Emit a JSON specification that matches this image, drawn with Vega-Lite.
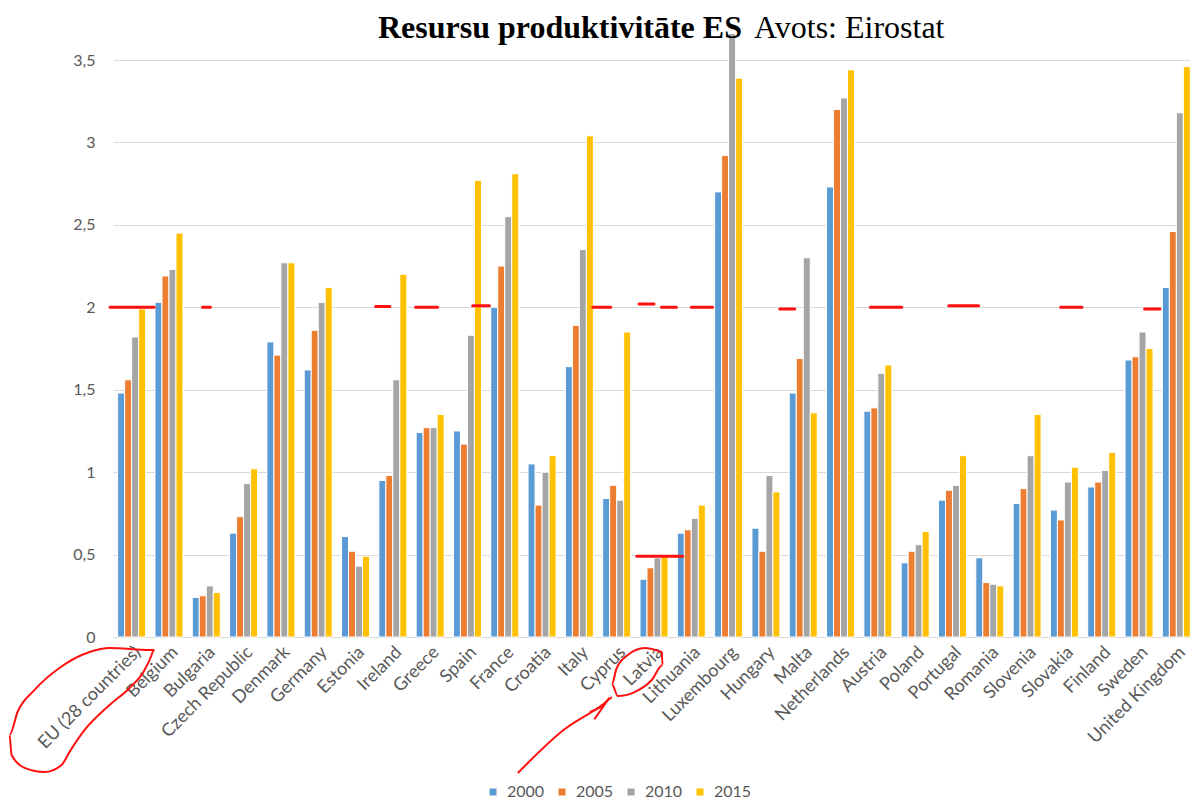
{
  "$schema": "https://vega.github.io/schema/vega-lite/v6.json",
  "width": 1082,
  "height": 577,
  "autosize": "none",
  "padding": {"left": 113, "top": 60, "right": 0, "bottom": 164},
  "background": "white",
  "config": {"font": "Lato", "view": {"stroke": null}},
  "title": {
    "text": "Resursu produktivitāte ES",
    "subtitle": "\u200b\u00a0\u00a0\u00a0\u00a0\u00a0\u00a0\u00a0\u00a0\u00a0\u00a0\u00a0\u00a0\u00a0\u00a0\u00a0\u00a0\u00a0\u00a0\u00a0\u00a0\u00a0\u00a0\u00a0\u00a0\u00a0\u00a0\u00a0\u00a0\u00a0\u00a0\u00a0\u00a0\u00a0\u00a0\u00a0\u00a0\u00a0\u00a0\u00a0\u00a0\u00a0\u00a0\u00a0\u00a0\u00a0\u00a0\u00a0Avots: Eirostat",
    "anchor": "start",
    "frame": "group",
    "dx": 265,
    "offset": -12,
    "font": "Liberation Serif",
    "fontSize": 32,
    "fontWeight": "bold",
    "color": "black",
    "subtitleFont": "Liberation Serif",
    "subtitleFontSize": 32,
    "subtitleFontWeight": "normal",
    "subtitleColor": "black",
    "subtitlePadding": -32
  },
  "datasets": {
    "bars": [
      {"country": "EU (28 countries)", "2000": 1.48, "2005": 1.56, "2010": 1.82, "2015": 1.99},
      {"country": "Belgium", "2000": 2.03, "2005": 2.19, "2010": 2.23, "2015": 2.45},
      {"country": "Bulgaria", "2000": 0.24, "2005": 0.25, "2010": 0.31, "2015": 0.27},
      {"country": "Czech Republic", "2000": 0.63, "2005": 0.73, "2010": 0.93, "2015": 1.02},
      {"country": "Denmark", "2000": 1.79, "2005": 1.71, "2010": 2.27, "2015": 2.27},
      {"country": "Germany", "2000": 1.62, "2005": 1.86, "2010": 2.03, "2015": 2.12},
      {"country": "Estonia", "2000": 0.61, "2005": 0.52, "2010": 0.43, "2015": 0.49},
      {"country": "Ireland", "2000": 0.95, "2005": 0.98, "2010": 1.56, "2015": 2.2},
      {"country": "Greece", "2000": 1.24, "2005": 1.27, "2010": 1.27, "2015": 1.35},
      {"country": "Spain", "2000": 1.25, "2005": 1.17, "2010": 1.83, "2015": 2.77},
      {"country": "France", "2000": 2.0, "2005": 2.25, "2010": 2.55, "2015": 2.81},
      {"country": "Croatia", "2000": 1.05, "2005": 0.8, "2010": 1.0, "2015": 1.1},
      {"country": "Italy", "2000": 1.64, "2005": 1.89, "2010": 2.35, "2015": 3.04},
      {"country": "Cyprus", "2000": 0.84, "2005": 0.92, "2010": 0.83, "2015": 1.85},
      {"country": "Latvia", "2000": 0.35, "2005": 0.42, "2010": 0.48, "2015": 0.5},
      {"country": "Lithuania", "2000": 0.63, "2005": 0.65, "2010": 0.72, "2015": 0.8},
      {"country": "Luxembourg", "2000": 2.7, "2005": 2.92, "2010": 3.66, "2015": 3.39},
      {"country": "Hungary", "2000": 0.66, "2005": 0.52, "2010": 0.98, "2015": 0.88},
      {"country": "Malta", "2000": 1.48, "2005": 1.69, "2010": 2.3, "2015": 1.36},
      {"country": "Netherlands", "2000": 2.73, "2005": 3.2, "2010": 3.27, "2015": 3.44},
      {"country": "Austria", "2000": 1.37, "2005": 1.39, "2010": 1.6, "2015": 1.65},
      {"country": "Poland", "2000": 0.45, "2005": 0.52, "2010": 0.56, "2015": 0.64},
      {"country": "Portugal", "2000": 0.83, "2005": 0.89, "2010": 0.92, "2015": 1.1},
      {"country": "Romania", "2000": 0.48, "2005": 0.33, "2010": 0.32, "2015": 0.31},
      {"country": "Slovenia", "2000": 0.81, "2005": 0.9, "2010": 1.1, "2015": 1.35},
      {"country": "Slovakia", "2000": 0.77, "2005": 0.71, "2010": 0.94, "2015": 1.03},
      {"country": "Finland", "2000": 0.91, "2005": 0.94, "2010": 1.01, "2015": 1.12},
      {"country": "Sweden", "2000": 1.68, "2005": 1.7, "2010": 1.85, "2015": 1.75},
      {"country": "United Kingdom", "2000": 2.12, "2005": 2.46, "2010": 3.18, "2015": 3.46}
    ],
    "dashes": [
      {"a": -0.08, "b": 1.1, "v": 2.0},
      {"a": 2.4, "b": 2.61, "v": 2.0},
      {"a": 7.04, "b": 7.42, "v": 2.005},
      {"a": 8.11, "b": 8.7, "v": 2.0},
      {"a": 9.64, "b": 10.09, "v": 2.01},
      {"a": 12.86, "b": 13.34, "v": 2.0},
      {"a": 14.1, "b": 14.5, "v": 2.02},
      {"a": 14.7, "b": 15.1, "v": 2.0},
      {"a": 15.5, "b": 16.07, "v": 2.0},
      {"a": 17.87, "b": 18.27, "v": 1.99},
      {"a": 20.3, "b": 21.14, "v": 2.0},
      {"a": 22.4, "b": 23.2, "v": 2.01},
      {"a": 25.4, "b": 25.97, "v": 2.0},
      {"a": 27.65, "b": 28.06, "v": 1.99},
      {"a": 14.04, "b": 15.27, "v": 0.49}
    ],
    "scribbles": [
      {"id": "eu", "ord": 1, "ix": 1.115, "v": -0.079},
      {"id": "eu", "ord": 2, "ix": 0.981, "v": -0.079},
      {"id": "eu", "ord": 3, "ix": -0.091, "v": -0.067},
      {"id": "eu", "ord": 4, "ix": -0.627, "v": -0.091},
      {"id": "eu", "ord": 5, "ix": -1.437, "v": -0.188},
      {"id": "eu", "ord": 6, "ix": -2.102, "v": -0.321},
      {"id": "eu", "ord": 7, "ix": -2.558, "v": -0.455},
      {"id": "eu", "ord": 8, "ix": -2.772, "v": -0.594},
      {"id": "eu", "ord": 9, "ix": -2.718, "v": -0.716},
      {"id": "eu", "ord": 10, "ix": -2.37, "v": -0.794},
      {"id": "eu", "ord": 11, "ix": -1.834, "v": -0.819},
      {"id": "eu", "ord": 12, "ix": -1.378, "v": -0.776},
      {"id": "eu", "ord": 13, "ix": -1.164, "v": -0.697},
      {"id": "eu", "ord": 14, "ix": -0.761, "v": -0.564},
      {"id": "eu", "ord": 15, "ix": -0.091, "v": -0.412},
      {"id": "eu", "ord": 16, "ix": 0.445, "v": -0.309},
      {"id": "eu", "ord": 17, "ix": 0.847, "v": -0.2},
      {"id": "eu", "ord": 18, "ix": 1.035, "v": -0.109},
      {"id": "eu", "ord": 19, "ix": 1.08, "v": -0.079},
      {"id": "lv", "ord": 1, "ix": 14.71, "v": -0.091},
      {"id": "lv", "ord": 2, "ix": 14.25, "v": -0.067},
      {"id": "lv", "ord": 3, "ix": 13.8, "v": -0.109},
      {"id": "lv", "ord": 4, "ix": 13.5, "v": -0.188},
      {"id": "lv", "ord": 5, "ix": 13.37, "v": -0.285},
      {"id": "lv", "ord": 6, "ix": 13.53, "v": -0.358},
      {"id": "lv", "ord": 7, "ix": 13.98, "v": -0.334},
      {"id": "lv", "ord": 8, "ix": 14.44, "v": -0.261},
      {"id": "lv", "ord": 9, "ix": 14.73, "v": -0.17},
      {"id": "lv", "ord": 10, "ix": 14.71, "v": -0.091},
      {"id": "arrow", "ord": 1, "ix": 10.85, "v": -0.825},
      {"id": "arrow", "ord": 2, "ix": 12.1, "v": -0.56},
      {"id": "arrow", "ord": 3, "ix": 13.18, "v": -0.4},
      {"id": "arrow", "ord": 4, "ix": 13.37, "v": -0.364},
      {"id": "head", "ord": 1, "ix": 12.78, "v": -0.455},
      {"id": "head", "ord": 2, "ix": 13.3, "v": -0.37},
      {"id": "head", "ord": 3, "ix": 12.9, "v": -0.5}
    ]
  },
  "layer": [
    {
      "data": {"name": "bars"},
      "transform": [{"fold": ["2000", "2005", "2010", "2015"], "as": ["year", "value"]}],
      "mark": {"type": "bar", "stroke": "white", "strokeWidth": 1},
      "encoding": {
        "x": {
          "field": "country", "type": "nominal", "sort": null,
          "scale": {"paddingInner": 0.25, "paddingOuter": 0.125},
          "axis": {
            "title": null, "labelAngle": -45, "labelFontSize": 18, "labelColor": "#595959",
            "ticks": false, "domainColor": "#d9d9d9", "labelPadding": 6, "grid": false,
            "labelOverlap": false
          }
        },
        "xOffset": {"field": "year", "type": "nominal", "sort": ["2000", "2005", "2010", "2015"]},
        "y": {
          "field": "value", "type": "quantitative",
          "scale": {"domain": [0, 3.5], "nice": false, "zero": true},
          "axis": {
            "title": null, "values": [0, 0.5, 1, 1.5, 2, 2.5, 3, 3.5],
            "labelExpr": "replace(format(datum.value, ''), '.', ',')",
            "labelFontSize": 16, "labelColor": "#595959", "labelPadding": 18,
            "domain": false, "ticks": false, "gridColor": "#d9d9d9", "gridWidth": 1
          }
        },
        "color": {
          "field": "year", "type": "nominal",
          "scale": {"domain": ["2000", "2005", "2010", "2015"], "range": ["#5B9BD5", "#ED7D31", "#A5A5A5", "#FFC000"]},
          "legend": {
            "title": null, "orient": "none", "legendX": 372, "legendY": 724,
            "direction": "horizontal", "columns": 4, "columnPadding": 9,
            "symbolType": "square", "symbolSize": 49, "symbolStrokeWidth": 0,
            "labelFontSize": 16, "labelColor": "#595959", "labelOffset": 6
          }
        }
      }
    },
    {
      "data": {"name": "dashes"},
      "mark": {"type": "rule", "color": "#ff1010", "strokeWidth": 3, "strokeCap": "round"},
      "encoding": {
        "x": {"field": "a", "type": "quantitative", "scale": {"domain": [0, 29], "nice": false, "zero": false}, "axis": null},
        "x2": {"field": "b"},
        "y": {"field": "v", "type": "quantitative"}
      }
    },
    {
      "data": {"name": "scribbles"},
      "mark": {"type": "line", "color": "#ff1010", "strokeWidth": 2, "interpolate": "monotone"},
      "encoding": {
        "x": {"field": "ix", "type": "quantitative", "scale": {"domain": [0, 29], "nice": false, "zero": false}, "axis": null},
        "y": {"field": "v", "type": "quantitative"},
        "detail": {"field": "id"},
        "order": {"field": "ord", "type": "quantitative"}
      }
    }
  ],
  "resolve": {"scale": {"x": "independent"}}
}
